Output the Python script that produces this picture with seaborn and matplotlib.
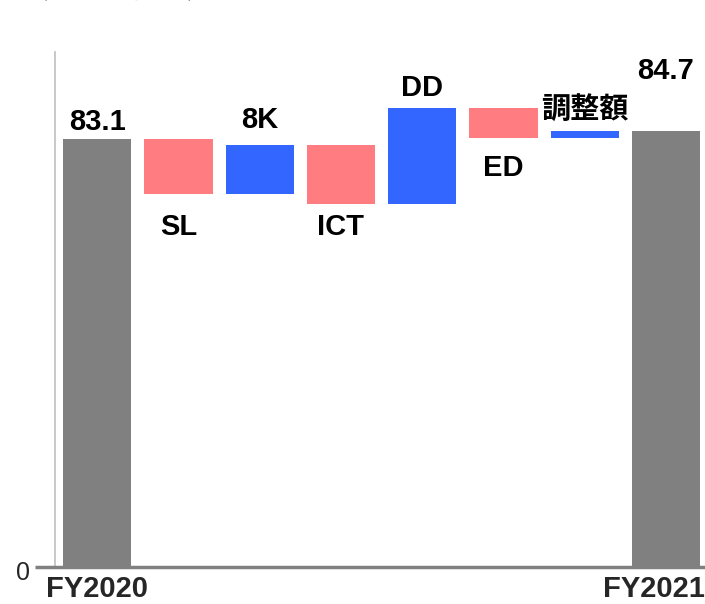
import numpy as np
import pandas as pd
import matplotlib.pyplot as plt
import matplotlib.transforms as mtransforms
import seaborn as sns

# Waterfall data (億円)
categories = ["FY2020", "SL", "8K", "ICT", "DD", "ED", "調整額", "FY2021"]
changes = [83.1, -10.7, 9.5, -11.5, 18.7, -5.8, 1.4, 84.7]
is_total = [True, False, False, False, False, False, False, True]
labels = ["83.1", "SL", "8K", "ICT", "DD", "ED", "調整額", "84.7"]
tick_labels = ["FY2020", "", "", "", "", "", "", "FY2021"]

# label offset from bar edge (points)
label_offsets = [12, 23.5, 18, 16.5, 14.5, 21.5, 14, 43]

sns.set_theme(style="white")
plt.rcParams['font.family'] = ['Liberation Sans', 'Noto Sans CJK JP']

# build bottoms / heights
bottoms, heights, colors = [], [], []
level = 0.0
for val, tot in zip(changes, is_total):
    if tot:
        bottoms.append(0.0)
        heights.append(val)
        colors.append("#808080")
        level = val
    else:
        new_level = level + val
        bottoms.append(min(level, new_level))
        heights.append(abs(val))
        colors.append("#3366FF" if val > 0 else "#FF7C80")
        level = new_level

df = pd.DataFrame({"cat": categories, "height": heights})

fig = plt.figure(figsize=(7.05, 6.04), dpi=100)
ax = fig.add_axes([0.078, 0.0613, 0.922, 0.853])

sns.barplot(data=df, x="cat", y="height", hue="cat", palette=colors,
            legend=False, width=0.84, saturation=1, ax=ax)

# lift floating bars to their bottoms
for p, b in zip(ax.patches, bottoms):
    p.set_y(b)
    p.set_edgecolor("none")

# labels
for i, (lab, val, tot) in enumerate(zip(labels, changes, is_total)):
    b, h = bottoms[i], heights[i]
    if tot or val > 0:
        y, off = b + h, label_offsets[i]
    else:
        y, off = b, -label_offsets[i]
    ax.annotate(lab, (i, y), xytext=(0, off), textcoords="offset points",
                ha="center", va="center", fontsize=21, fontweight="bold",
                color="black")

ax.set_xlim(-0.52, 7.48)
ax.set_ylim(0, 100)
ax.set_yticks([0])
ax.set_yticklabels(["0"], fontsize=18)
ax.set_xticks(range(len(categories)))
ax.set_xticklabels(tick_labels, fontsize=21, fontweight="bold")
ax.set_xlabel("")
ax.set_ylabel("")
ax.tick_params(axis="y", length=0, pad=18)
ax.tick_params(axis="x", length=0, pad=6)

# nudge the "0" a little down like the original
zero = ax.get_yticklabels()[0]
zero.set_transform(zero.get_transform() +
                   mtransforms.ScaledTranslation(0, -4 / 100, fig.dpi_scale_trans))

# keep the last tick label inside the figure
last = ax.get_xticklabels()[-1]
last.set_transform(last.get_transform() +
                   mtransforms.ScaledTranslation(-12 / 100, 0, fig.dpi_scale_trans))

for s in ["top", "right", "bottom"]:
    ax.spines[s].set_visible(False)
ax.spines["left"].set_color("#BFBFBF")
ax.spines["left"].set_linewidth(1.2)

# thick baseline extending left of the axis
ax.plot([-0.031, 1.0], [0, 0], transform=ax.transAxes, color="#808080",
        linewidth=2.5, clip_on=False, zorder=5, solid_capstyle="butt")

fig.text(0.03, 1.003, "（単位：億円）", fontsize=20, va="baseline", ha="left",
         family=['Noto Sans CJK JP', 'Liberation Sans'])

fig.savefig("out.png", dpi=100)
